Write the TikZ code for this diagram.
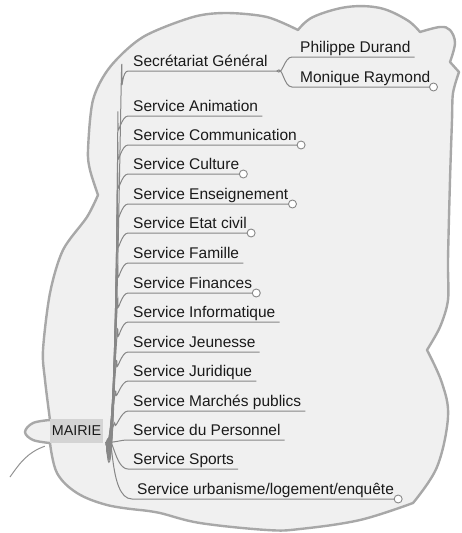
\documentclass[tikz,border=0pt]{standalone}
\usepackage{fontspec}
\setmainfont{Liberation Sans}
\definecolor{cloudline}{HTML}{A8A8A8}
\definecolor{cloudfill}{HTML}{F0F0F0}
\definecolor{branchc}{HTML}{878787}
\definecolor{textc}{HTML}{1A1A1A}
\definecolor{rootfill}{HTML}{D4D4D4}
\begin{document}
\begin{tikzpicture}[x=1pt,y=-1pt,
  cloud/.style={draw=cloudline, fill=cloudfill, line width=2.4pt, line join=round},
  branch/.style={draw=branchc, line width=1pt},
  tailline/.style={draw=branchc!90, line width=1pt},
  lbl/.style={anchor=base west, inner sep=0pt, font=\fontsize{15.5}{18}\selectfont, text=textc},
  rootbox/.style={fill=rootfill, inner sep=0pt, minimum width=53pt, minimum height=24pt, font=\fontsize{14.3}{17}\selectfont, text=textc},
  knob/.style={circle, draw=branchc, fill=white, line width=0.9pt, minimum size=8pt, inner sep=0pt},
]
\useasboundingbox (0,0) rectangle (461,533);

% cloud boundary
\path[cloud] (50,420)
 -- plot[smooth,tension=0.5] coordinates {(50,420) (45,380) (43,350) (50,293) (63,250) (87,217) (98,195)}
 -- plot[smooth,tension=0.5] coordinates {(98,195) (90,170) (88,150) (93,100) (110,67) (143,37) (193,17) (227,13) (267,17) (298,30)}
 -- plot[smooth,tension=0.6] coordinates {(298,30) (313,17) (347,7) (380,8) (407,20) (420,32)}
 -- plot[smooth,tension=0.6] coordinates {(420,32) (440,27) (450,30) (455,43) (450,62)}
 -- (459,72)
 -- plot[smooth,tension=0.5] coordinates {(459,72) (453,93) (452,120) (450,180) (448,260) (448,300) (440,327) (427,350)}
 -- plot[smooth,tension=0.6] coordinates {(427,350) (442,383) (448,417) (437,467) (413,503)}
 -- plot[smooth,tension=0.6] coordinates {(413,503) (360,520) (300,529) (267,530) (200,523) (160,513) (140,510)}
 -- plot[smooth,tension=0.6] coordinates {(140,510) (107,505) (77,493) (57,473) (50,443)}
 -- plot[smooth,tension=0.6] coordinates {(50,443) (33,440) (25,432) (33,423) (50,420)}
 -- cycle;

% root
\node[rootbox] (mairie) at (76.5,431) {MAIRIE};
\coordinate (R) at ([shift={(3,-1)}]mairie.south east);
\coordinate (tail) at (10,477);
\draw[tailline] ([shift={(-5,3)}]mairie.south west) to[out=200,in=55] (tail);

% Secretariat general
\node[lbl] (t0) at (133,66) {Secrétariat Général};
\coordinate (s0) at ([shift={(-5,5)}]t0.base west);
\coordinate (j0) at ([shift={(9,5)}]t0.base east);
\draw[branch] (R) to[out=-86,in=90] ([shift={(-6,13)}]s0) to[out=-90,in=180] (s0) -- (j0);

\node[lbl] (tp) at (300,52) {Philippe Durand};
\coordinate (sp) at ([shift={(-8,5)}]tp.base west);
\coordinate (ep) at ([shift={(4,5)}]tp.base east);
\draw[branch] (j0) to[out=-45,in=180] (sp) -- (ep);

\node[lbl] (tm) at (300,82) {Monique Raymond};
\coordinate (sm) at ([shift={(-8,5)}]tm.base west);
\coordinate (em) at ([shift={(3,5)}]tm.base east);
\draw[branch] (j0) to[out=45,in=180] (sm) -- (em);
\node[knob] (km) at (em) {};

% upper services
\foreach \t/\y/\k/\dx [count=\i] in {
  Service Animation/116/0/-10,
  Service Communication/145/1/-10,
  Service Culture/174/1/-10,
  Service Enseignement/204/1/-10,
  Service Etat civil/233/1/-10,
  Service Famille/263/0/-10,
  Service Finances/293/1/-10,
  Service Informatique/322/0/-10,
  Service Jeunesse/352/0/-11,
  Service Juridique/381/0/-12,
  Service Marchés publics/411/0/-13}{
  \node[lbl] (t\i) at (133,\y-5) {\t};
  \coordinate (s\i) at ([shift={(-5,5)}]t\i.base west);
  \coordinate (e\i) at ([shift={(4,5)}]t\i.base east);
  \draw[branch] (R) to[out=-85,in=90] ([shift={(\dx,13)}]s\i) to[out=-90,in=180] (s\i) -- (e\i);
  \ifnum\k=1 \node[knob] (k\i) at (e\i) {}; \fi
}

% lower services
\node[lbl] (tper) at (133,435) {Service du Personnel};
\coordinate (sper) at ([shift={(-5,5)}]tper.base west);
\coordinate (eper) at ([shift={(4,5)}]tper.base east);
\draw[branch] (R) to[out=-5,in=180] (sper) -- (eper);

\node[lbl] (tspo) at (133,464) {Service Sports};
\coordinate (sspo) at ([shift={(-5,5)}]tspo.base west);
\coordinate (espo) at ([shift={(4,5)}]tspo.base east);
\draw[branch] (R) to[out=62,in=180] (sspo) -- (espo);

\node[lbl] (turb) at (137,494) {Service urbanisme/logement/enquête};
\coordinate (surb) at ([shift={(-5,5)}]turb.base west);
\coordinate (eurb) at ([shift={(4,5)}]turb.base east);
\draw[branch] (R) to[out=70,in=180] (surb) -- (eurb);
\node[knob] (kurb) at (eurb) {};
\end{tikzpicture}
\end{document}
